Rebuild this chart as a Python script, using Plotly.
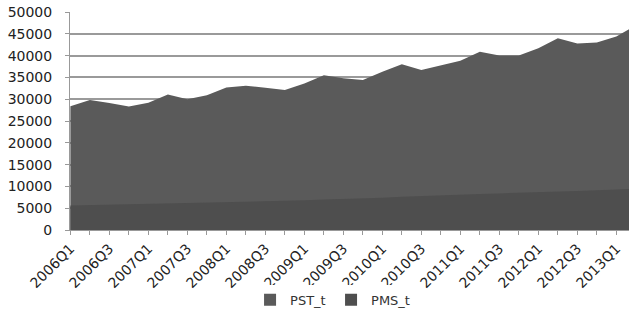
import plotly.graph_objects as go

# Quarterly series, 2006Q1 .. 2013Q2
quarters = [f"{y}Q{q}" for y in range(2006, 2014) for q in range(1, 5)][:30]

pst_t = [28400, 29800, 29100, 28300, 29200, 31100, 30000, 30900, 32700, 33100,
         32600, 32100, 33600, 35500, 34800, 34400, 36300, 38000, 36700, 37800,
         38800, 40900, 40000, 40000, 41700, 44000, 42800, 43000, 44400, 46900]

pms_t = [5600, 5700, 5750, 5800, 5900, 6000, 6100, 6200, 6300, 6450,
         6550, 6700, 6800, 7000, 7100, 7250, 7400, 7600, 7800, 7950,
         8100, 8250, 8400, 8500, 8650, 8800, 8950, 9100, 9300, 9450]

y_ticks = list(range(0, 50001, 5000))
y_labels = [str(v) for v in y_ticks]

series_names = ["PST_t", "PMS_t"]
series_colors = ["#5a5a5a", "#4e4e4e"]

idx = list(range(len(quarters)))
tick_text = [q if i % 2 == 0 else "" for i, q in enumerate(quarters)]

fig = go.Figure()
for name, vals, col in zip(series_names, [pst_t, pms_t], series_colors):
    fig.add_trace(go.Scatter(
        x=idx, y=vals, name=name, mode="lines",
        line=dict(width=0, color=col),
        fill="tozeroy", fillcolor=col, showlegend=False,
    ))
    # square legend key
    fig.add_trace(go.Scatter(
        x=[None], y=[None], name=name, mode="markers",
        marker=dict(symbol="square", size=9, color=col),
        showlegend=True,
    ))

font_family = "DejaVu Sans"

fig.update_layout(
    width=629, height=320,
    margin=dict(l=70, r=0, t=12, b=90),
    paper_bgcolor="white", plot_bgcolor="white",
    font=dict(family=font_family, color="#222222"),
    showlegend=True,
    legend=dict(
        orientation="h", x=0.467, xanchor="center", y=-0.32, yanchor="middle",
        font=dict(size=13, color="#333333"),
        traceorder="normal", itemsizing="constant",
        entrywidth=36, entrywidthmode="pixels",
    ),
    xaxis=dict(
        range=[-0.02, 28.65],
        tickmode="array", tickvals=idx, ticktext=tick_text,
        tickangle=-45, tickfont=dict(size=14, color="#222222"),
        ticks="outside", ticklen=4, tickcolor="#999999",
        showline=True, linecolor="#999999", linewidth=1,
        showgrid=False, zeroline=False,
    ),
    yaxis=dict(
        range=[0, 50000],
        tickmode="array", tickvals=y_ticks, ticktext=y_labels,
        tickfont=dict(size=14, color="#222222"),
        ticks="outside", ticklen=4, tickcolor="#999999",
        ticklabelstandoff=10,
        showline=True, linecolor="#999999", linewidth=1,
        showgrid=True, gridcolor="#9a9a9a", gridwidth=1.5,
        zeroline=False,
    ),
)

fig.write_html("out.html")
